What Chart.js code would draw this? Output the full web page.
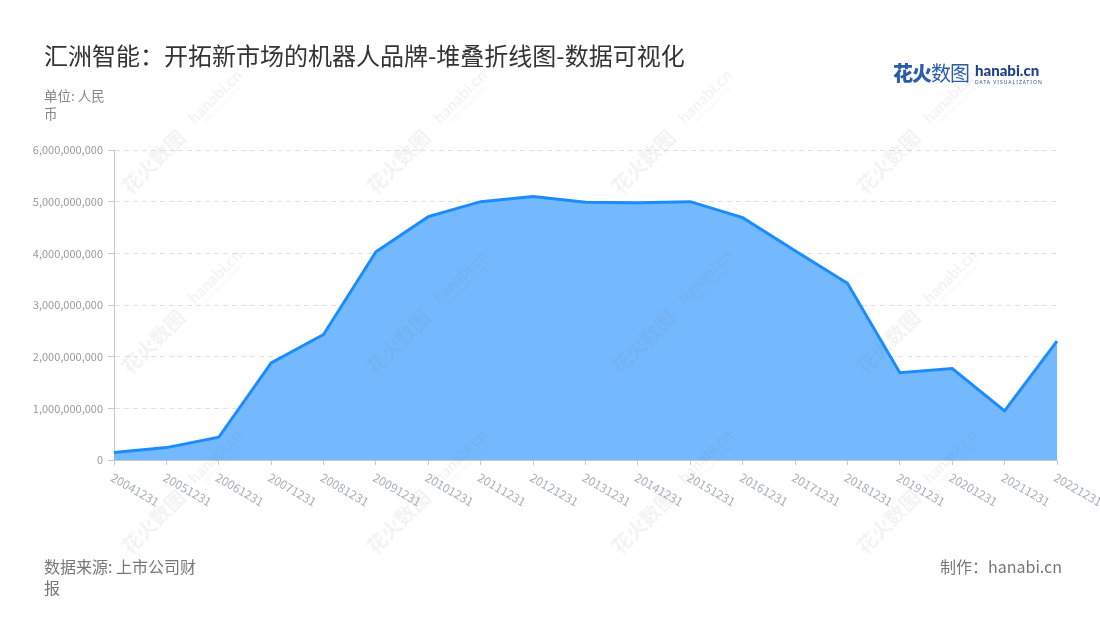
<!DOCTYPE html>
<html>
<head>
<meta charset="utf-8">
<script src="https://cdn.jsdelivr.net/npm/chart.js@4/dist/chart.umd.min.js"></script>
<style>
  body { margin: 0; background: #fff; font-family: "Noto Sans CJK SC", "Noto Sans", sans-serif; }
  #wrap { position: relative; width: 1100px; height: 620px; overflow: hidden; }
  #chartBox { position: absolute; left: 0; top: 0; width: 1100px; height: 620px; }
  .title { position: absolute; left: 44px; top: 37px; font-size: 24px; color: #333; white-space: nowrap; }
  .unit { position: absolute; left: 44px; top: 86px; width: 70px; font-size: 13.5px; line-height: 18px; color: #888; }
  .source { position: absolute; left: 44px; top: 556px; width: 160px; font-size: 16px; line-height: 21px; color: #777; }
  .maker { position: absolute; right: 38px; top: 556px; font-size: 16px; line-height: 21px; color: #777; }
  .logo { position: absolute; left: 893px; top: 58px; height: 30px; }
  .logo .cn { position: absolute; left: 0; top: 0; font-size: 20px; color: #2a5caa; white-space: nowrap; letter-spacing: -1px; }
  .logo .cn b { font-weight: 900; }
  .logo .en { position: absolute; left: 82px; top: 3px; font-family: "Lato", "Noto Sans", sans-serif; font-weight: 900; font-size: 15px; color: #1e3f8a; }
  .logo .sub { position: absolute; left: 82px; top: 21px; font-family: "Noto Sans", sans-serif; font-size: 5px; color: #3a4f8a; letter-spacing: 1px; white-space: nowrap; }
</style>
</head>
<body>
<div id="wrap">
  <div id="chartBox"><canvas id="chart"></canvas></div>
  <div class="title">汇洲智能：开拓新市场的机器人品牌-堆叠折线图-数据可视化</div>
  <div class="unit">单位: 人民币</div>
  <div class="logo">
    <span class="cn"><b>花火</b>数图</span>
    <span class="en">hanabi.cn</span>
    <span class="sub">DATA VISUALIZATION</span>
  </div>
  <div class="source">数据来源: 上市公司财报</div>
  <div class="maker">制作：hanabi.cn</div>
</div>
<script>
// 数据
const years = ['20041231', '20051231', '20061231', '20071231', '20081231', '20091231', '20101231',
  '20111231', '20121231', '20131231', '20141231', '20151231', '20161231', '20171231', '20181231',
  '20191231', '20201231', '20211231', '20221231'];
const revenue = [145000000, 240000000, 440000000, 1880000000, 2430000000, 4030000000, 4710000000,
  5000000000, 5100000000, 4990000000, 4980000000, 5000000000, 4690000000, 4050000000, 3420000000,
  1690000000, 1770000000, 950000000, 2300000000];
const yTicks = [0, 1000000000, 2000000000, 3000000000, 4000000000, 5000000000, 6000000000];

// 水印
const watermark = {
  id: 'watermark',
  afterDraw(chart) {
    const ctx = chart.ctx;
    ctx.save();
    ctx.fillStyle = 'rgba(120, 120, 120, 0.09)';
    ctx.textBaseline = 'middle';
    ctx.textAlign = 'center';
    for (let cx = 185; cx < 1100; cx += 245) {
      for (let cy = 130; cy < 620; cy += 180) {
        ctx.save();
        ctx.translate(cx, cy);
        ctx.rotate(-Math.PI / 4);
        ctx.font = 'bold 20px "Noto Sans CJK SC"';
        ctx.fillText('花火数图', -45, 0);
        ctx.font = 'bold 16px "Lato"';
        ctx.fillText('hanabi.cn', 45, -2);
        ctx.font = '5px "Noto Sans"';
        ctx.fillText('DATA VISUALIZATION', 45, 9);
        ctx.restore();
      }
    }
    ctx.restore();
  }
};

// x轴斜向标签
const slantLabels = {
  id: 'slantLabels',
  afterDraw(chart) {
    const scale = chart.scales.x;
    const ctx = chart.ctx;
    ctx.save();
    ctx.font = '12px "Noto Sans CJK SC"';
    ctx.fillStyle = '#a9afbb';
    ctx.textAlign = 'left';
    ctx.textBaseline = 'top';
    years.forEach((label, i) => {
      const x = scale.getPixelForTick(i);
      ctx.save();
      ctx.translate(x + 1, scale.top + 11);
      ctx.rotate(Math.PI / 6);
      ctx.fillText(label, 0, 0);
      ctx.restore();
    });
    ctx.restore();
  }
};

new Chart(document.getElementById('chart').getContext('2d'), {
  type: 'line',
  data: {
    labels: years,
    datasets: [{
      data: revenue,
      borderColor: '#1a8cff',
      backgroundColor: '#74b9fe',
      borderWidth: 3,
      fill: 'origin',
      pointRadius: 0,
      pointHoverRadius: 0,
      tension: 0
    }]
  },
  options: {
    responsive: true,
    maintainAspectRatio: false,
    animation: false,
    layout: { padding: { left: 14, right: 43, top: 150, bottom: 0 } },
    plugins: { legend: { display: false }, tooltip: { enabled: false } },
    scales: {
      x: {
        offset: false,
        ticks: { display: false },
        grid: { drawOnChartArea: false, drawTicks: true, tickLength: 5, tickColor: '#c8c8c8', tickBorderDash: [] },
        border: { display: true, color: '#c8c8c8', width: 1 },
        afterFit: s => { s.height = 160; s.paddingLeft = 0; s.paddingRight = 0; }
      },
      y: {
        min: 0,
        max: 6000000000,
        afterBuildTicks: s => { s.ticks = yTicks.map(v => ({ value: v })); },
        ticks: {
          color: '#9a9a9a',
          font: { family: 'Noto Sans CJK SC', size: 11 },
          padding: 5,
          callback: v => v.toLocaleString('en-US')
        },
        grid: { color: '#e2e2e2', lineWidth: 1, drawTicks: true, tickLength: 6, tickColor: '#c8c8c8', tickBorderDash: [] },
        border: { display: true, color: '#c8c8c8', width: 1, dash: [5, 4] },
        afterFit: s => { s.width = 100; }
      }
    }
  },
  plugins: [watermark, slantLabels]
});
</script>
</body>
</html>
